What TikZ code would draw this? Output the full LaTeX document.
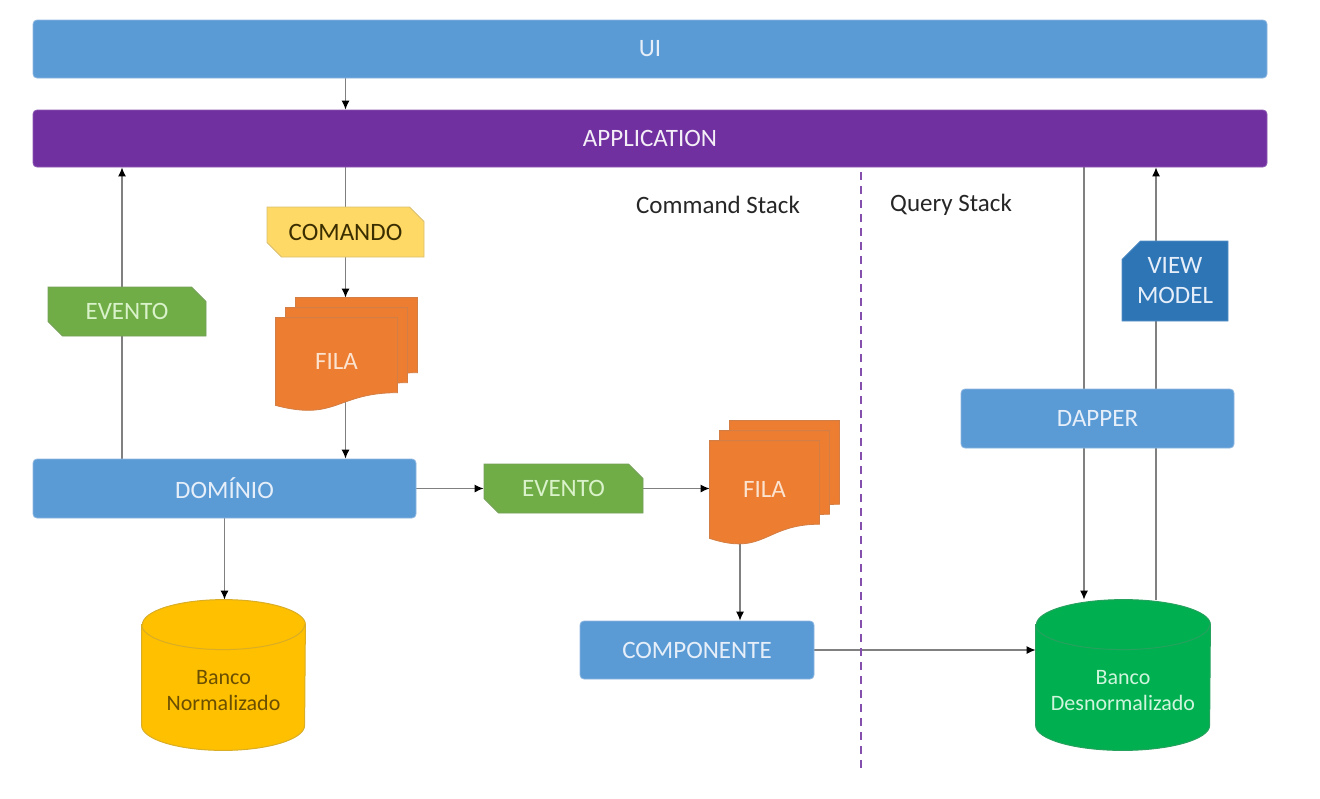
\documentclass[tikz,border=0pt]{standalone}
\usepackage{fontspec}
\setmainfont{Carlito}
\usetikzlibrary{positioning,calc,arrows.meta,shapes.misc,backgrounds}

\definecolor{uiblue}{HTML}{5B9BD5}
\definecolor{uiborder}{HTML}{8DB6E1}
\definecolor{uitext}{HTML}{E6EFF9}
\definecolor{apppurple}{HTML}{7030A0}
\definecolor{evgreen}{HTML}{70AD47}
\definecolor{evtext}{HTML}{D9F2C9}
\definecolor{cmdyellow}{HTML}{FFD966}
\definecolor{cmdtext}{HTML}{3A2E00}
\definecolor{filaorange}{HTML}{ED7D31}
\definecolor{filatext}{HTML}{FBE3CF}
\definecolor{dbyellow}{HTML}{FFC000}
\definecolor{dbytext}{HTML}{6B4F00}
\definecolor{dbgreen}{HTML}{00B050}
\definecolor{dbgtext}{HTML}{CFF5DC}
\definecolor{vmblue}{HTML}{2E75B6}
\definecolor{linegray}{HTML}{808080}

% one page of the stacked queue, shifted up and right by #2
\newcommand{\docpage}[2]{%
  \filldraw[filapage] ($(#1.north west)+(#2,#2)$) -- ($(#1.north east)+(#2,#2)$)
    -- ($(#1.north east)!0.855!(#1.south east)+(#2,#2)$)
    .. controls ($(#1.north)!0.855!(#1.south)+(#2,#2)$) and ($(#1.north)!1.184!(#1.south)+(#2,#2)$)
    .. ($(#1.south west)+(#2,#2)$) -- cycle;}
% database drum round a node
\newcommand{\dbdrum}[4]{%
  \filldraw[#2] ($(#1.north west)-(0,#4)$) -- ($(#1.south west)+(0,#4)$)
    arc[start angle=180, end angle=360, x radius=#3, y radius=#4]
    -- ($(#1.north east)-(0,#4)$)
    arc[start angle=0, end angle=180, x radius=#3, y radius=#4] -- cycle;
  \draw[#2, fill=none] ($(#1.north west)-(0,#4)$)
    arc[start angle=180, end angle=360, x radius=#3, y radius=#4];}
% drum label, pushed below the lid
\newcommand{\drumtext}[2]{\raisebox{-11.25pt}[0pt][0pt]{\begin{tabular}{@{}c@{}}#1\\#2\end{tabular}}}

\begin{document}
\begin{tikzpicture}[x=0.5pt, y=0.5pt,
    font=\fontsize{12.5}{15}\selectfont,
    layer/.style={rectangle, rounded corners=2pt, fill=uiblue, draw=uiborder, line width=0.4pt, text=uitext},
    snipbox/.style={chamfered rectangle, chamfered rectangle corners={north east, south west},
        chamfered rectangle xsep=4.5pt, inner sep=0pt, line width=0.4pt},
    filadoc/.style={rectangle, inner sep=0pt, text=filatext},
    filapage/.style={fill=filaorange, draw=filaorange!75!gray, line width=0.4pt},
    drum/.style={rectangle, inner sep=0pt, font=\fontsize{11}{13}\selectfont},
    arr/.style={draw=linegray, line width=0.6pt, -{Latex[length=4.5pt, width=4pt, black]}}]

    \useasboundingbox (0,0) rectangle (1320,-798);

    % Layers on top
    \node[layer, minimum width=617pt, minimum height=29pt] (ui) at (650,-49) {UI};
    \node[layer, fill=apppurple, draw=apppurple!80!white, text=white!92!apppurple,
        minimum width=617pt, minimum height=28.5pt] (app) at (650,-138.5) {APPLICATION};

    % Command side
    \node[snipbox, fill=cmdyellow, draw=cmdyellow!70!gray, text=cmdtext,
        minimum width=78.5pt, minimum height=25pt] (cmd) at (345.5,-232) {COMANDO};
    \node[snipbox, fill=evgreen, draw=evgreen!70!gray, text=evtext,
        minimum width=79pt, minimum height=24.5pt] (evL) at (127,-311.5) {EVENTO};
    \node[filadoc, minimum width=60.5pt, minimum height=43.5pt] (fila1) at (336.5,-361.5) {FILA};
    \node[layer, minimum width=191.5pt, minimum height=29.5pt] (dom) at (224.5,-488.5) {DOMÍNIO};
    \node[snipbox, fill=evgreen, draw=evgreen!70!gray, text=evtext,
        minimum width=79.5pt, minimum height=24.5pt] (evR) at (563.5,-488.5) {EVENTO};
    \node[filadoc, minimum width=54.5pt, minimum height=48.5pt] (fila2) at (764.5,-489.5) {FILA};
    \node[layer, minimum width=117pt, minimum height=29pt] (comp) at (697,-650) {COMPONENTE};
    \node[drum, minimum width=81.5pt, minimum height=75pt, text=dbytext] (bn) at (223.5,-675)
        {\drumtext{Banco}{Normalizado}};

    % Query side
    \node[chamfered rectangle, chamfered rectangle corners=north west, chamfered rectangle xsep=6pt,
        inner sep=0pt, fill=vmblue, draw=vmblue!80!white, text=uitext, align=center,
        minimum width=53pt, minimum height=40pt] (vm) at (1175,-281) {VIEW\\MODEL};
    \node[layer, minimum width=136.5pt, minimum height=29.5pt] (dap) at (1097.5,-418.5) {DAPPER};
    \node[drum, minimum width=87pt, minimum height=75pt, text=dbgtext] (bd) at (1123,-675)
        {\drumtext{Banco}{Desnormalizado}};

    % Stack titles and divider
    \node[text=black!85] (cmdstack) at (718,-205) {Command Stack};
    \node[text=black!85] (qrystack) at (951,-205) {Query Stack};
    \coordinate (divtop) at (861,-172);
    \coordinate (divbot) at (861,-772);
    \draw[apppurple!85!white, line width=1.2pt, dash pattern=on 4pt off 3pt] (divtop) -- (divbot);

    \coordinate (fila1top) at ($(fila1.north -| cmd)+(0,20)$);
    \coordinate (evup) at ([xshift=-2.5pt]evL.south);
    \coordinate (qdown) at ([xshift=-6.75pt]dap.center);
    \coordinate (qup) at ([xshift=29.25pt]dap.center);

    \begin{scope}[on background layer]
        % Connectors
        \draw[arr] (ui.south -| cmd) -- (app.north -| cmd);
        \draw[arr] (app.south -| cmd) -- (fila1top);
        \draw[arr] (fila1.center -| cmd) -- (dom.north -| cmd);
        \draw[arr] (dom.north -| evup) -- (app.south -| evup);
        \draw[arr] (dom.east) -- (evR.west);
        \draw[arr] (evR.east) -- (evR.east -| fila2.west);
        \draw[arr] ([xshift=-12.25pt]fila2.center) -- ([xshift=-12.25pt]fila2.center |- comp.north);
        \draw[arr] (dom.south) -- (dom.south |- bn.north);
        \draw[arr] (comp.east) -- (comp.east -| bd.west);
        \draw[arr] (app.south -| qdown) -- (bd.north -| qdown);
        \draw[arr] (bd.north -| qup) -- (app.south -| qup);

        % Queue stacks
        \docpage{fila1}{20} \docpage{fila1}{10} \docpage{fila1}{0}
        \docpage{fila2}{20} \docpage{fila2}{10} \docpage{fila2}{0}

        % Databases
        \dbdrum{bn}{fill=dbyellow, draw=dbyellow!70!gray, line width=0.5pt}{40.75pt}{12.5pt}
        \dbdrum{bd}{fill=dbgreen, draw=dbgreen!70!gray, line width=0.5pt}{43.5pt}{12.5pt}
    \end{scope}
\end{tikzpicture}
\end{document}
